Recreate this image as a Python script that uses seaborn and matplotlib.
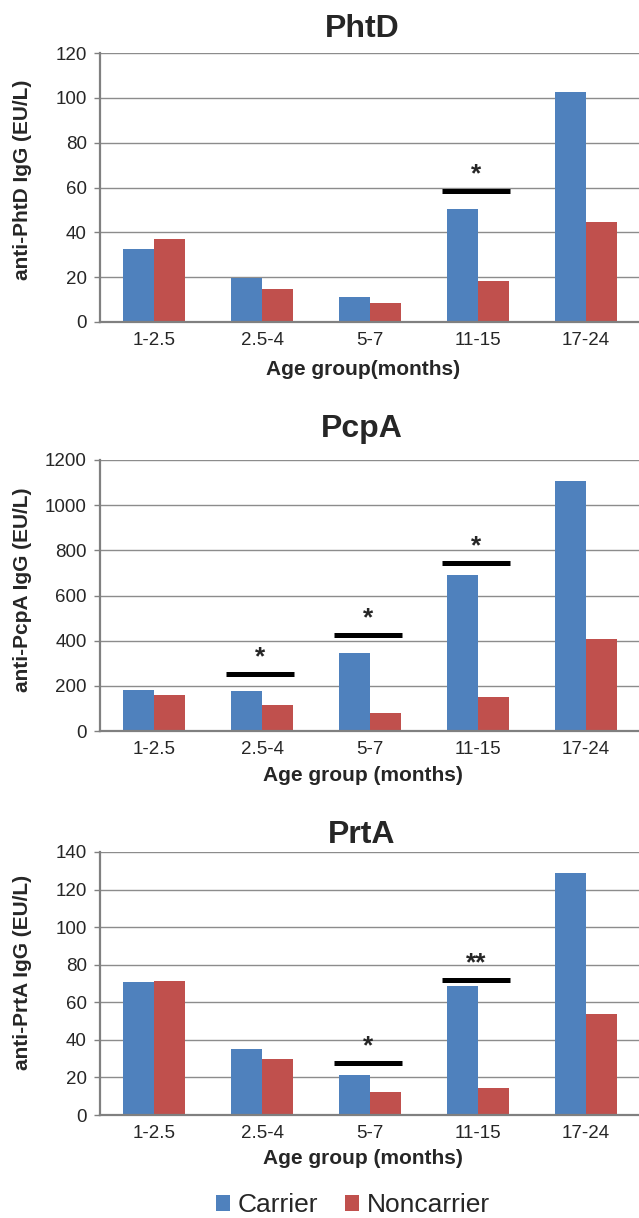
import numpy as np
import pandas as pd
import seaborn as sns
import matplotlib.pyplot as plt
from matplotlib.patches import Patch

ages = ['1-2.5', '2.5-4', '5-7', '11-15', '17-24']
groups = ['Carrier', 'Noncarrier']
colors = ['#4F81BD', '#C0504D']

phtd_carrier = [32.4, 19.7, 11.0, 50.5, 102.6]
phtd_non = [37.1, 14.7, 8.3, 18.4, 44.4]
pcpa_carrier = [181, 178, 345, 692, 1109]
pcpa_non = [158, 114, 81, 150, 407]
prta_carrier = [70.8, 35.1, 21.5, 68.5, 128.7]
prta_non = [71.3, 30.0, 12.4, 14.6, 53.8]

# significance marks: (age index, bar level, stars)
phtd_sig = [(3, 58.6, '*')]
pcpa_sig = [(1, 252, '*'), (2, 425, '*'), (3, 745, '*')]
prta_sig = [(2, 27.9, '*'), (3, 71.8, '**')]

titles = ['PhtD', 'PcpA', 'PrtA']
ylabels = ['anti-PhtD IgG (EU/L)', 'anti-PcpA IgG (EU/L)', 'anti-PrtA IgG (EU/L)']
xlabels = ['Age group(months)', 'Age group (months)', 'Age group (months)']
ymax = [120, 1200, 140]
ystep = [20, 200, 20]

sns.set_style('white')
plt.rcParams['font.family'] = ['Liberation Sans', 'DejaVu Sans']

W, H = 639, 1218
fig = plt.figure(figsize=(W / 100, H / 100), dpi=100)

# axes boxes in pixels: (top, bottom) of plotting area
boxes = [(53, 322), (460, 731), (852, 1115)]
title_base = [37, 437, 843]
xlabel_base = [375, 781, 1164]
ylabel_mid = [180, 590, 972]
left, right = 100, 640

panels = [
    (phtd_carrier, phtd_non, phtd_sig),
    (pcpa_carrier, pcpa_non, pcpa_sig),
    (prta_carrier, prta_non, prta_sig),
]

for i, (car, non, sig) in enumerate(panels):
    top, bot = boxes[i]
    ax = fig.add_axes([left / W, 1 - bot / H, (right - left) / W, (bot - top) / H])
    df = pd.DataFrame({
        'age': ages * 2,
        'group': ['Carrier'] * 5 + ['Noncarrier'] * 5,
        'value': list(car) + list(non),
    })
    sns.barplot(data=df, x='age', y='value', hue='group', order=ages,
                hue_order=groups, palette=colors, width=0.571, dodge=True,
                saturation=1, edgecolor='none', linewidth=0, legend=False, ax=ax)
    ax.set_xlim(-0.5, 4.5)
    ax.set_ylim(0, ymax[i])
    ax.set_yticks(np.arange(0, ymax[i] + 1, ystep[i]))
    ax.yaxis.grid(True, color='#8c8c8c', linewidth=1.0)
    ax.set_axisbelow(True)
    for s in ['top', 'right']:
        ax.spines[s].set_visible(False)
    for s in ['left', 'bottom']:
        ax.spines[s].set_color('#808080')
        ax.spines[s].set_linewidth(1.6)
    ax.tick_params(axis='y', length=4.5, width=1.0, color='#808080', pad=5,
                   labelsize=13.5, left=True)
    ax.tick_params(axis='x', length=0, pad=7, labelsize=13.5)
    ax.set_xlabel('')
    ax.set_ylabel(ylabels[i], fontsize=15, fontweight='bold', va='center')
    ax.yaxis.set_label_coords((22 - left) / (right - left), (bot - ylabel_mid[i]) / (bot - top))

    for k, level, stars in sig:
        ax.plot([k - 0.33, k + 0.30], [level, level], color='black', linewidth=3.6,
                solid_capstyle='butt')
        ax.annotate(stars, (k - 0.015, level), xytext=(0, 7), textcoords='offset points',
                    ha='center', va='baseline', fontsize=19, fontweight='bold')

    fig.text(362 / W, 1 - title_base[i] / H, titles[i], ha='center', va='baseline',
             fontsize=23, fontweight='bold')
    fig.text(363 / W, 1 - xlabel_base[i] / H, xlabels[i], ha='center', va='baseline',
             fontsize=15, fontweight='bold')

handles = [Patch(facecolor=c, edgecolor='none') for c in colors]
fig.legend(handles, groups, loc='center', bbox_to_anchor=(353 / W, 1 - 1205 / H),
           ncol=2, frameon=False, fontsize=19, handlelength=0.55, handleheight=0.55,
           handletextpad=0.3, columnspacing=1.0)

fig.savefig('out.png', dpi=100)
